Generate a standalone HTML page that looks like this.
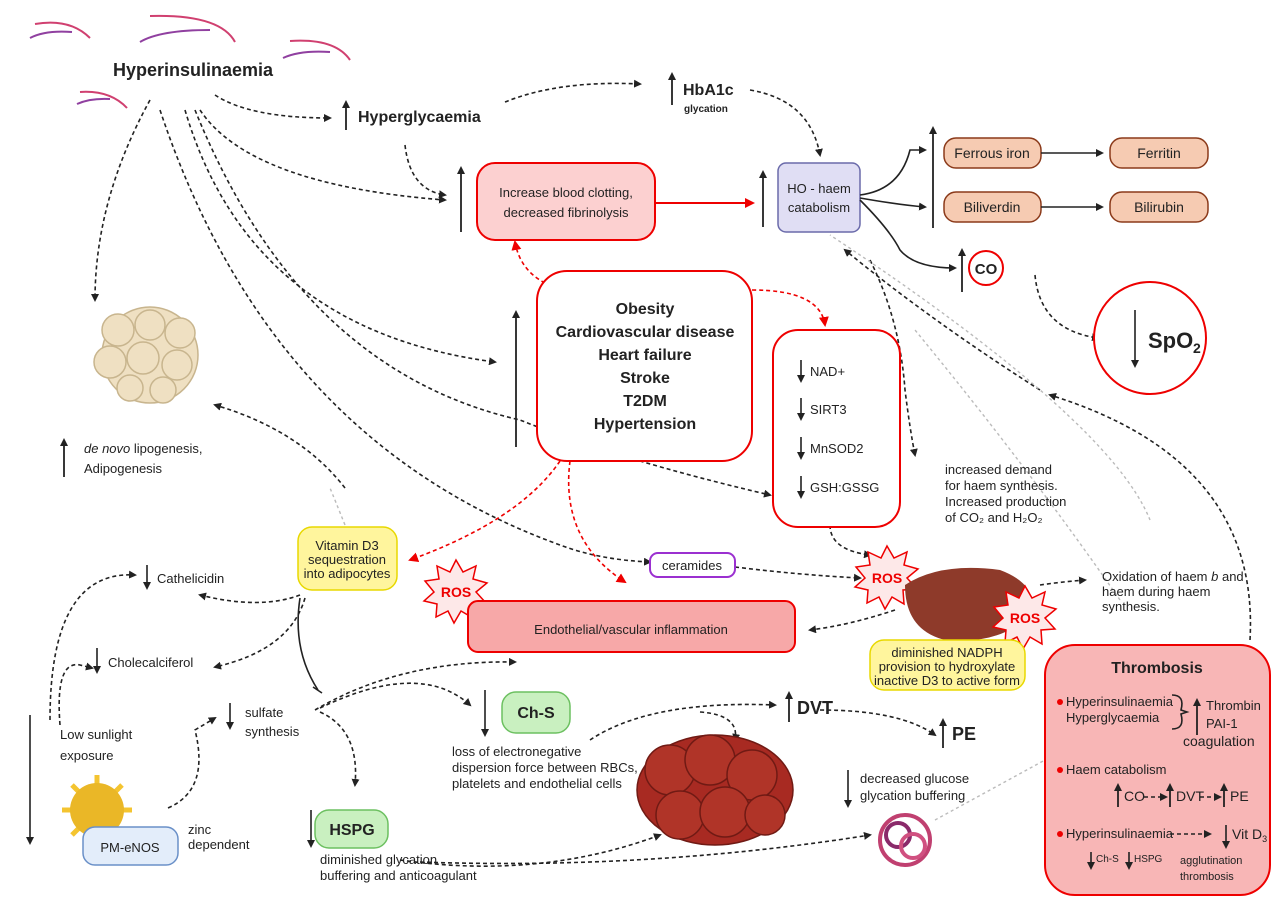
<!DOCTYPE html>
<html><head><meta charset="utf-8"><style>
body{margin:0;background:#fff}
svg{display:block;font-family:"Liberation Sans",sans-serif}
</style></head><body>
<svg width="1280" height="909" viewBox="0 0 1280 909" xmlns="http://www.w3.org/2000/svg">
<defs>
<marker id="a" markerWidth="8" markerHeight="8" refX="6" refY="4" orient="auto" markerUnits="userSpaceOnUse"><path d="M0,0 L8,4 L0,8 z" fill="#222"/></marker>
<marker id="r" markerWidth="10" markerHeight="10" refX="8" refY="5" orient="auto" markerUnits="userSpaceOnUse"><path d="M0,0 L10,5 L0,10 z" fill="#e00"/></marker>
</defs>
<style>
.d{fill:none;stroke:#222;stroke-width:1.6;stroke-dasharray:4 3;marker-end:url(#a)}
.g{fill:none;stroke:#bbb;stroke-width:1.4;stroke-dasharray:3 3}
.rd{fill:none;stroke:#e00;stroke-width:1.6;stroke-dasharray:4 3;marker-end:url(#r)}
.s{fill:none;stroke:#222;stroke-width:1.6}
.up{stroke:#222;stroke-width:1.8;marker-end:url(#a)}
.t{font-size:13px;fill:#222}
.b{font-weight:bold;fill:#222}
</style>
<!-- insulin decor -->
<g fill="none" stroke-width="2">
<path d="M35,24 Q70,18 90,38" stroke="#d04070"/><path d="M30,38 Q45,30 72,32" stroke="#9040a0"/>
<path d="M150,16 Q220,14 235,42" stroke="#d04070"/><path d="M140,42 Q160,30 210,30" stroke="#9040a0"/>
<path d="M290,41 Q335,38 350,60" stroke="#d04070"/><path d="M283,58 Q300,50 330,52" stroke="#9040a0"/>
<path d="M80,92 Q110,90 127,108" stroke="#d04070"/><path d="M77,104 Q90,98 110,99" stroke="#9040a0"/>
</g>
<text x="113" y="76" class="b" font-size="18">Hyperinsulinaemia</text>
<line x1="346" y1="130" x2="346" y2="102" class="up"/>
<text x="358" y="122" class="b" font-size="16">Hyperglycaemia</text>
<line x1="672" y1="105" x2="672" y2="74" class="up"/>
<text x="683" y="95" class="b" font-size="16">HbA1c</text>
<text x="684" y="112" class="b" font-size="10">glycation</text>
<!-- dashed connectors -->
<path class="d" d="M215,95 Q250,118 330,118"/>
<path class="d" d="M505,102 Q560,80 640,84"/>
<path class="d" d="M750,90 Q810,100 820,155"/>
<path class="d" d="M405,145 Q410,190 445,195"/>
<path class="d" d="M200,110 Q250,185 445,200"/>
<path class="d" d="M150,100 Q95,200 95,300"/>
<path class="d" d="M185,110 Q250,330 495,362"/>
<path class="d" d="M195,110 Q300,370 520,420 Q620,460 770,495"/>
<path class="d" d="M160,110 Q270,440 560,545 Q600,560 650,562"/>
<path class="d" d="M735,567 Q800,575 860,578"/>
<path class="d" d="M830,525 Q830,550 870,555"/>
<path class="d" d="M895,610 Q850,625 810,630"/>
<path class="d" d="M1040,585 Q1060,582 1085,580"/>
<path class="d" d="M870,260 Q900,320 905,390 Q910,430 915,455"/>
<path class="d" d="M1035,275 Q1040,330 1098,338"/>
<path class="d" d="M1250,640 Q1260,460 1050,395"/>
<path class="d" d="M1040,390 Q930,320 845,250"/>
<path class="g" d="M1150,520 Q1110,420 830,235"/>
<path class="g" d="M1120,600 Q1030,470 915,330"/>
<path class="d" d="M345,488 Q300,430 215,405"/>
<path class="g" d="M345,525 Q335,500 330,488"/>
<path class="d" d="M300,595 Q260,610 200,595"/>
<path class="d" d="M305,598 Q290,650 215,667"/>
<path class="d" d="M50,720 Q50,570 135,575"/>
<path class="d" d="M60,725 Q55,660 80,665 L92,668"/>
<path class="d" d="M168,808 Q210,790 195,730 L215,718"/>
<path class="d" d="M315,710 Q400,660 515,662"/>
<path class="d" d="M320,708 Q420,660 470,705"/>
<path class="d" d="M320,712 Q360,730 355,785"/>
<path class="d" d="M400,860 Q540,880 660,835"/>
<path class="d" d="M420,862 Q650,870 870,835"/>
<path class="d" d="M590,740 Q650,700 775,705"/>
<path class="d" d="M700,712 Q740,715 735,740"/>
<path class="d" d="M820,710 Q900,710 935,735"/>
<path class="g" d="M935,820 Q990,790 1045,760"/>
<path class="rd" d="M545,283 Q520,270 515,242"/>
<path class="rd" d="M752,290 Q820,290 825,325"/>
<path class="rd" d="M560,461 Q520,520 410,560"/>
<path class="rd" d="M570,461 Q560,540 625,582"/>
<!-- up arrows -->
<line x1="461" y1="232" x2="461" y2="168" class="up"/>
<line x1="763" y1="227" x2="763" y2="172" class="up"/>
<line x1="516" y1="447" x2="516" y2="312" class="up"/>
<line x1="933" y1="228" x2="933" y2="128" class="up"/>
<line x1="962" y1="292" x2="962" y2="250" class="up"/>
<!-- blood clotting -->
<rect x="477" y="163" width="178" height="77" rx="18" fill="#fcd0d0" stroke="#e00" stroke-width="2"/>
<text x="566" y="197" class="t" text-anchor="middle" font-size="14">Increase blood clotting,</text>
<text x="566" y="217" class="t" text-anchor="middle" font-size="14">decreased fibrinolysis</text>
<line x1="655" y1="203" x2="753" y2="203" stroke="#e00" stroke-width="2" marker-end="url(#r)"/>
<rect x="778" y="163" width="82" height="69" rx="8" fill="#e0def4" stroke="#6a6aaa" stroke-width="1.5"/>
<text x="819" y="193" class="t" text-anchor="middle" font-size="14">HO - haem</text>
<text x="819" y="212" class="t" text-anchor="middle" font-size="14">catabolism</text>
<path class="s" d="M860,195 Q900,190 910,150 L925,150" marker-end="url(#a)"/>
<path class="s" d="M860,198 Q900,205 925,207" marker-end="url(#a)"/>
<path class="s" d="M860,200 Q890,230 900,250 Q915,268 955,268" marker-end="url(#a)"/>
<g font-size="14" fill="#222" text-anchor="middle">
<rect x="944" y="138" width="97" height="30" rx="12" fill="#f6cbb2" stroke="#8b3a1a" stroke-width="1.5"/><text x="992" y="158">Ferrous iron</text>
<rect x="1110" y="138" width="98" height="30" rx="12" fill="#f6cbb2" stroke="#8b3a1a" stroke-width="1.5"/><text x="1159" y="158">Ferritin</text>
<rect x="944" y="192" width="97" height="30" rx="12" fill="#f6cbb2" stroke="#8b3a1a" stroke-width="1.5"/><text x="992" y="212">Biliverdin</text>
<rect x="1110" y="192" width="98" height="30" rx="12" fill="#f6cbb2" stroke="#8b3a1a" stroke-width="1.5"/><text x="1159" y="212">Bilirubin</text>
</g>
<line x1="1041" y1="153" x2="1102" y2="153" class="s" marker-end="url(#a)"/>
<line x1="1041" y1="207" x2="1102" y2="207" class="s" marker-end="url(#a)"/>
<circle cx="986" cy="268" r="17" fill="#fff" stroke="#e00" stroke-width="2"/>
<text x="986" y="274" class="b" font-size="15" text-anchor="middle">CO</text>
<circle cx="1150" cy="338" r="56" fill="#fff" stroke="#e00" stroke-width="2"/>
<line x1="1135" y1="310" x2="1135" y2="366" class="s" stroke-width="2" marker-end="url(#a)"/>
<text x="1148" y="348" class="b" font-size="22">SpO</text><text x="1193" y="353" class="b" font-size="14">2</text>
<!-- central -->
<rect x="537" y="271" width="215" height="190" rx="30" fill="#fff" stroke="#e00" stroke-width="2"/>
<g class="b" font-size="16" text-anchor="middle">
<text x="645" y="314">Obesity</text><text x="645" y="337">Cardiovascular disease</text><text x="645" y="360">Heart failure</text><text x="645" y="383">Stroke</text><text x="645" y="406">T2DM</text><text x="645" y="429">Hypertension</text></g>
<rect x="773" y="330" width="127" height="197" rx="25" fill="#fff" stroke="#e00" stroke-width="2"/>
<g class="t" font-size="13">
<text x="810" y="376">NAD+</text><text x="810" y="414">SIRT3</text><text x="810" y="453">MnSOD2</text><text x="810" y="492">GSH:GSSG</text></g>
<g stroke="#222" stroke-width="1.6">
<line x1="801" y1="360" x2="801" y2="381" marker-end="url(#a)"/><line x1="801" y1="398" x2="801" y2="419" marker-end="url(#a)"/><line x1="801" y1="437" x2="801" y2="458" marker-end="url(#a)"/><line x1="801" y1="476" x2="801" y2="497" marker-end="url(#a)"/></g>
<g class="t" font-size="12"><text x="945" y="474">increased demand</text><text x="945" y="490">for haem synthesis.</text><text x="945" y="506">Increased production</text><text x="945" y="522">of CO₂ and H₂O₂</text></g>
<!-- fat -->
<g fill="#efe0c2" stroke="#c8b58e" stroke-width="1.5">
<circle cx="150" cy="355" r="48"/><circle cx="118" cy="330" r="16"/><circle cx="150" cy="325" r="15"/><circle cx="180" cy="333" r="15"/><circle cx="110" cy="362" r="16"/><circle cx="143" cy="358" r="16"/><circle cx="177" cy="365" r="15"/><circle cx="130" cy="388" r="13"/><circle cx="163" cy="390" r="13"/></g>
<line x1="64" y1="477" x2="64" y2="440" class="up"/>
<text x="84" y="453" class="t" font-size="14"><tspan font-style="italic">de novo</tspan> lipogenesis,</text>
<text x="84" y="473" class="t" font-size="14">Adipogenesis</text>
<!-- vit D -->
<rect x="298" y="527" width="99" height="63" rx="14" fill="#fff59d" stroke="#e8d800" stroke-width="1.5"/>
<g class="t" font-size="11" text-anchor="middle"><text x="347" y="550">Vitamin D3</text><text x="347" y="564">sequestration</text><text x="347" y="578">into adipocytes</text></g>
<rect x="650" y="553" width="85" height="24" rx="8" fill="#fff" stroke="#9b30d0" stroke-width="2"/>
<text x="692" y="570" class="t" font-size="14" text-anchor="middle">ceramides</text>
<!-- ROS stars -->
<g fill="#fde8e8" stroke="#e00" stroke-width="1.5">
<polygon points="456,560 463,572 476,566 473,579 487,583 476,592 486,603 472,604 473,618 461,611 454,623 448,611 436,617 437,604 424,601 434,592 425,581 439,579 437,566 450,572"/>
<polygon points="887,546 894,558 907,552 904,565 918,569 907,578 917,589 903,590 904,604 892,597 885,609 879,597 867,603 868,590 855,587 865,578 856,567 870,565 868,552 881,558"/>
</g>
<path d="M905,585 Q940,562 1000,570 Q1040,585 1030,615 Q1000,645 945,640 Q905,630 905,585z" fill="#8e3a2a"/>
<polygon fill="#fde8e8" stroke="#e00" stroke-width="1.5" points="1025,586 1032,598 1045,592 1042,605 1056,609 1045,618 1055,629 1041,630 1042,644 1030,637 1023,649 1017,637 1005,643 1006,630 993,627 1003,618 994,607 1008,605 1006,592 1019,598"/>
<g fill="#e00" font-weight="bold" font-size="14" text-anchor="middle"><text x="456" y="597">ROS</text><text x="887" y="583">ROS</text><text x="1025" y="623">ROS</text></g>
<rect x="870" y="640" width="155" height="50" rx="14" fill="#fff59d" stroke="#e8d800" stroke-width="1.5"/>
<g class="t" font-size="11" text-anchor="middle"><text x="947" y="657">diminished NADPH</text><text x="947" y="671">provision to hydroxylate</text><text x="947" y="685">inactive D3 to active form</text></g>
<g class="t" font-size="11"><text x="1102" y="581">Oxidation of haem <tspan font-style="italic">b</tspan> and</text><text x="1102" y="596">haem during haem</text><text x="1102" y="611">synthesis.</text></g>
<rect x="468" y="601" width="327" height="51" rx="10" fill="#f7a8a8" stroke="#e00" stroke-width="2"/>
<text x="631" y="634" class="t" font-size="18" text-anchor="middle">Endothelial/vascular inflammation</text>
<!-- left -->
<line x1="147" y1="565" x2="147" y2="588" class="s" marker-end="url(#a)"/>
<text x="157" y="583" class="t" font-size="13">Cathelicidin</text>
<line x1="97" y1="648" x2="97" y2="672" class="s" marker-end="url(#a)"/>
<text x="108" y="667" class="t" font-size="13">Cholecalciferol</text>
<text x="60" y="739" class="t" font-size="16">Low sunlight</text>
<text x="60" y="760" class="t" font-size="16">exposure</text>
<line x1="30" y1="715" x2="30" y2="843" class="s" marker-end="url(#a)"/>
<g stroke="#f4c430" stroke-width="5"><line x1="97" y1="775" x2="97" y2="845"/><line x1="62" y1="810" x2="132" y2="810"/><line x1="72" y1="785" x2="122" y2="835"/><line x1="122" y1="785" x2="72" y2="835"/></g>
<circle cx="97" cy="810" r="27" fill="#eab727"/>
<rect x="83" y="827" width="95" height="38" rx="12" fill="#e3edfa" stroke="#6a90c8" stroke-width="1.5"/>
<text x="130" y="852" class="t" font-size="16" text-anchor="middle">PM-eNOS</text>
<text x="188" y="834" class="t" font-size="11">zinc</text><text x="188" y="849" class="t" font-size="11">dependent</text>
<path class="s" d="M300,598 Q292,650 318,690"/><line x1="313" y1="687" x2="322" y2="693" stroke="#222" stroke-width="1.6"/>
<line x1="230" y1="703" x2="230" y2="728" class="s" marker-end="url(#a)"/>
<text x="245" y="717" class="t" font-size="13">sulfate</text><text x="245" y="736" class="t" font-size="13">synthesis</text>
<line x1="485" y1="690" x2="485" y2="735" class="s" marker-end="url(#a)"/>
<rect x="502" y="692" width="68" height="41" rx="14" fill="#c9f0c0" stroke="#6cc060" stroke-width="1.5"/>
<text x="536" y="718" class="b" font-size="16" text-anchor="middle">Ch-S</text>
<g class="t" font-size="12"><text x="452" y="756">loss of electronegative</text><text x="452" y="772">dispersion force between RBCs,</text><text x="452" y="788">platelets and endothelial cells</text></g>
<line x1="311" y1="810" x2="311" y2="846" class="s" marker-end="url(#a)"/>
<rect x="315" y="810" width="73" height="38" rx="14" fill="#c9f0c0" stroke="#6cc060" stroke-width="1.5"/>
<text x="352" y="835" class="b" font-size="16" text-anchor="middle">HSPG</text>
<g class="t" font-size="12"><text x="320" y="864">diminished glycation</text><text x="320" y="880">buffering and anticoagulant</text></g>
<!-- RBC -->
<g fill="#b03428" stroke="#701a14" stroke-width="1.5">
<ellipse cx="715" cy="790" rx="78" ry="55" fill="#a82a22"/>
<circle cx="670" cy="770" r="25"/><circle cx="710" cy="760" r="25"/><circle cx="752" cy="775" r="25"/><circle cx="680" cy="815" r="24"/><circle cx="725" cy="812" r="25"/><circle cx="765" cy="815" r="20"/></g>
<line x1="789" y1="722" x2="789" y2="693" class="up"/>
<text x="797" y="714" class="b" font-size="18">DVT</text>
<line x1="943" y1="748" x2="943" y2="720" class="up"/>
<text x="952" y="740" class="b" font-size="18">PE</text>
<line x1="848" y1="770" x2="848" y2="806" class="s" marker-end="url(#a)"/>
<g class="t" font-size="12"><text x="860" y="783">decreased glucose</text><text x="860" y="800">glycation buffering</text></g>
<g fill="none" stroke-width="4"><circle cx="905" cy="840" r="25" stroke="#c04070"/><circle cx="898" cy="835" r="12" stroke="#8a2a6a"/><circle cx="913" cy="846" r="12" stroke="#d05080"/></g>
<!-- thrombosis -->
<rect x="1045" y="645" width="225" height="250" rx="30" fill="#f8b6b6" stroke="#e00" stroke-width="2"/>
<text x="1157" y="673" class="b" font-size="16" text-anchor="middle">Thrombosis</text>
<g fill="#e00"><circle cx="1060" cy="702" r="3"/><circle cx="1060" cy="770" r="3"/><circle cx="1060" cy="834" r="3"/></g>
<g class="t" font-size="12">
<text x="1066" y="706">Hyperinsulinaemia</text><text x="1066" y="722">Hyperglycaemia</text>
<text x="1206" y="710">Thrombin</text><text x="1206" y="728">PAI-1</text>
<text x="1183" y="746" font-size="14">coagulation</text>
<text x="1066" y="774">Haem catabolism</text>
<text x="1124" y="801" font-size="14">CO</text><text x="1176" y="801" font-size="14">DVT</text><text x="1230" y="801" font-size="14">PE</text>
<text x="1066" y="838">Hyperinsulinaemia</text>
<text x="1232" y="839" font-size="14">Vit D<tspan font-size="9" dy="3">3</tspan></text>
<text x="1096" y="862" font-size="10">Ch-S</text><text x="1134" y="862" font-size="10">HSPG</text>
<text x="1180" y="864" font-size="11">agglutination</text><text x="1180" y="880" font-size="11">thrombosis</text></g>
<path class="s" d="M1172,695 Q1185,695 1181,710 L1187,712 L1181,714 Q1185,729 1172,729" stroke-width="1.2"/>
<line x1="1197" y1="735" x2="1197" y2="700" class="up"/>
<line x1="1118" y1="807" x2="1118" y2="785" class="up"/><line x1="1170" y1="807" x2="1170" y2="785" class="up"/><line x1="1224" y1="807" x2="1224" y2="785" class="up"/>
<path class="d" d="M1144,797 L1166,797"/><path class="d" d="M1200,797 L1220,797"/><path class="d" d="M1170,834 L1210,834"/>
<line x1="1226" y1="825" x2="1226" y2="847" class="s" marker-end="url(#a)"/>
<line x1="1091" y1="852" x2="1091" y2="868" class="s" marker-end="url(#a)"/><line x1="1129" y1="852" x2="1129" y2="868" class="s" marker-end="url(#a)"/>
</svg>
</body></html>
